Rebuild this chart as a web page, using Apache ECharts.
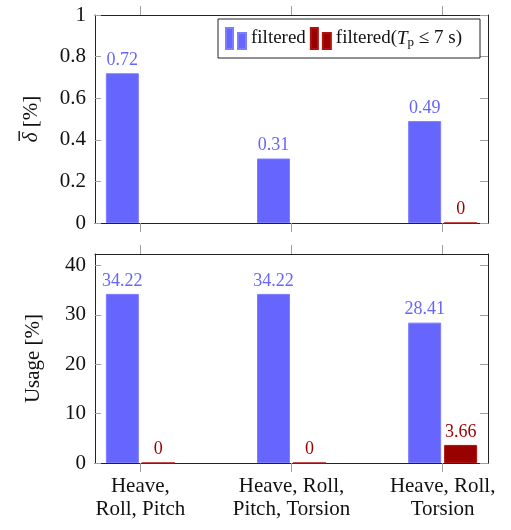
<!DOCTYPE html>
<html>
<head>
<meta charset="utf-8">
<script src="https://cdn.jsdelivr.net/npm/echarts@6/dist/echarts.min.js"></script>
<style>
  html, body { margin: 0; padding: 0; background: #fff; }
  #chart { width: 511px; height: 530px; }
</style>
</head>
<body>
<div id="chart"></div>
<script>
// Mode combinations on the shared x axis
const categories = ['Heave,\nRoll, Pitch', 'Heave, Roll,\nPitch, Torsion', 'Heave, Roll,\nTorsion'];

// Mean deviation (top panel), in percent
const deltaFiltered = [0.72, 0.31, 0.49];
const deltaFilteredTp = [null, null, 0];

// Usage (bottom panel), in percent
const usageFiltered = [34.22, 34.22, 28.41];
const usageFilteredTp = [0, 0, 3.66];

// Tick values
const deltaTicks = [0, 0.2, 0.4, 0.6, 0.8, 1];
const usageTicks = [0, 10, 20, 30, 40];
const catTicks = [0, 1, 2];

const FONT = 'Liberation Serif';
const BLUE = '#6666ff';
const RED = '#990000';
const TICK = '#a0a0a0';
const AXIS = '#222';

const toPairs = arr => arr.map((v, i) => [i, v]);

const chart = echarts.init(document.getElementById('chart'), null, { renderer: 'canvas' });

function xAxisFor(gridIndex, position, showLabels) {
  return {
    type: 'value', gridIndex, position,
    min: -0.3, max: 2.3,
    axisLine: { show: true, onZero: false, lineStyle: { color: AXIS, width: 1 } },
    axisTick: { show: true, inside: false, length: 9, customValues: catTicks, lineStyle: { color: TICK, width: 1 } },
    axisLabel: {
      show: showLabels, customValues: catTicks, margin: 12,
      formatter: v => categories[Math.round(v)] || '',
      fontFamily: FONT, fontSize: 21, color: '#111', lineHeight: 23
    },
    splitLine: { show: false }
  };
}

function yAxisFor(gridIndex, position, min, max, ticks, showLabels, name, nameGap, tickLen) {
  return {
    type: 'value', gridIndex, position, min, max,
    name: showLabels ? name : '',
    nameLocation: 'middle', nameGap,
    nameTextStyle: {
      fontFamily: FONT, fontSize: 21, color: '#111',
      rich: {
        i: { fontFamily: FONT, fontStyle: 'italic', fontSize: 21, color: '#111' },
        n: { fontFamily: FONT, fontSize: 21, color: '#111' }
      }
    },
    axisLine: { show: true, onZero: false, lineStyle: { color: AXIS, width: 1 } },
    axisTick: { show: true, inside: true, length: tickLen, customValues: ticks, lineStyle: { color: TICK, width: 1 } },
    axisLabel: {
      show: showLabels, customValues: ticks, margin: 9,
      formatter: v => String(Math.round(v * 100) / 100),
      fontFamily: FONT, fontSize: 21, color: '#111'
    },
    splitLine: { show: false }
  };
}

function barSeries(name, color, border, data, xi, yi) {
  return {
    type: 'bar', name,
    xAxisIndex: xi, yAxisIndex: yi,
    data: toPairs(data),
    barWidth: 33, barGap: '9%',
    itemStyle: { color, borderColor: border, borderWidth: 1 },
    label: {
      show: true, position: 'top', distance: 4,
      formatter: p => String(p.value[1]),
      fontFamily: FONT, fontSize: 18, color
    },
    emphasis: { disabled: true },
    animation: false
  };
}

const option = {
  animation: false,
  backgroundColor: '#fff',
  grid: [
    { left: 95, right: 23, top: 15, height: 208 },
    { left: 95, right: 23, top: 254, height: 209 }
  ],
  xAxis: [
    xAxisFor(0, 'bottom', false),
    xAxisFor(0, 'top', false),
    xAxisFor(1, 'bottom', true),
    xAxisFor(1, 'top', false)
  ],
  yAxis: [
    yAxisFor(0, 'left', 0, 1, deltaTicks, true, '{i|δ}{n| [%]}', 53, 6),
    yAxisFor(0, 'right', 0, 1, deltaTicks, false, '', 0, 8),
    yAxisFor(1, 'left', 0, 42.3, usageTicks, true, 'Usage [%]', 51, 6),
    yAxisFor(1, 'right', 0, 42.3, usageTicks, false, '', 0, 8)
  ],
  // bar accent over the rotated delta symbol
  graphic: [{
    type: 'rect',
    shape: { x: 18.5, y: 131, width: 1.4, height: 10 },
    style: { fill: '#111' },
    silent: true
  }],
  legend: {
    left: 218, top: 19,
    padding: [8, 18, 8, 7],
    borderColor: '#222', borderWidth: 1,
    backgroundColor: '#fff',
    itemWidth: 20, itemHeight: 21, itemGap: 4,
    icon: 'path://M0,0H7V21H0Z M12,5H20V21H12Z',
    data: ['filtered', 'filteredTp'],
    formatter: n => n === 'filtered' ? 'filtered' : 'filtered({i|T}{sub|p} ≤ 7 s)',
    textStyle: {
      fontFamily: FONT, fontSize: 19, color: '#111',
      rich: {
        i: { fontFamily: FONT, fontStyle: 'italic', fontSize: 19, color: '#111' },
        sub: { fontFamily: FONT, fontSize: 13, color: '#111', verticalAlign: 'bottom', padding: [8, 0, 0, 0] }
      }
    },
    selectedMode: false
  },
  series: [
    barSeries('filtered', BLUE, '#7d7dff', deltaFiltered, 0, 0),
    barSeries('filteredTp', RED, '#b01010', deltaFilteredTp, 0, 0),
    barSeries('filtered', BLUE, '#7d7dff', usageFiltered, 2, 2),
    barSeries('filteredTp', RED, '#b01010', usageFilteredTp, 2, 2)
  ]
};

chart.setOption(option);
</script>
</body>
</html>
